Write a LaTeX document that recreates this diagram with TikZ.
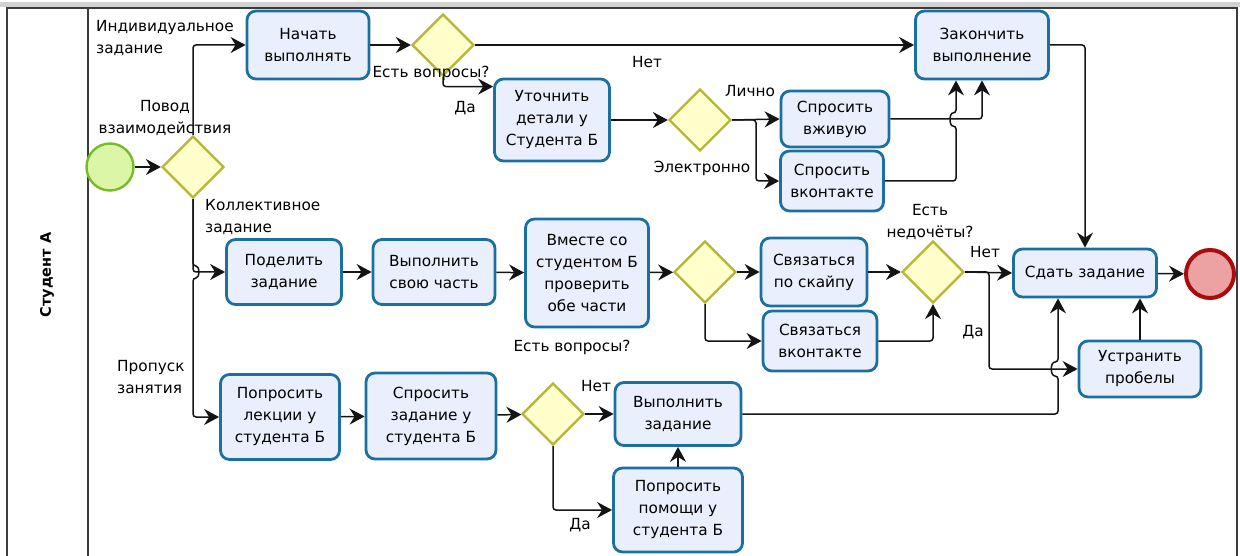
\documentclass[tikz,border=0pt]{standalone}
\usepackage{fontspec}
\setmainfont{DejaVu Sans}
\usetikzlibrary{shapes.geometric,arrows.meta,calc}

\definecolor{taskfill}{RGB}{234,239,253}
\definecolor{taskline}{RGB}{28,112,160}
\definecolor{gwfill}{RGB}{255,255,204}
\definecolor{gwline}{RGB}{182,182,52}
\definecolor{startfill}{RGB}{220,246,168}
\definecolor{startline}{RGB}{118,188,40}
\definecolor{endfill}{RGB}{236,162,162}
\definecolor{endline}{RGB}{168,12,12}
\definecolor{frameline}{RGB}{60,60,60}
\definecolor{flowline}{RGB}{20,20,20}

\tikzset{
  txt/.style={font=\fontsize{15.3}{22}\selectfont},
  task/.style={txt, draw=taskline, fill=taskfill, line width=2.8pt,
    rounded corners=9pt, align=center, inner sep=0pt},
  gw/.style={diamond, draw=gwline, fill=gwfill, line width=2.2pt,
    minimum width=62pt, minimum height=62pt, inner sep=0pt},
  startev/.style={circle, draw=startline, fill=startfill, line width=2.4pt,
    minimum size=47pt, inner sep=0pt},
  endev/.style={circle, draw=endline, fill=endfill, line width=4pt,
    minimum size=48pt, inner sep=0pt},
  flow/.style={draw=flowline, line width=1.5pt, rounded corners=3pt,
    -{Stealth[length=15pt,width=16pt,inset=5pt]}},
  lbl/.style={txt, inner sep=0pt, align=center},
  lane/.style={draw=frameline, line width=1.5pt},
}

\begin{document}
\begin{tikzpicture}[x=1pt,y=-1pt]
\useasboundingbox (0,0) rectangle (1240,556);

% window frame and the single lane
\fill[gray!35] (0,2) rectangle (1240,7);
\draw[lane] (7,560) -- (7,8) -- (1237,8) -- (1237,560);
\draw[lane] (88,8) -- (88,560);
\node[rotate=90, font=\bfseries\fontsize{14.5}{16}\selectfont] (lanename) at (47,275) {Студент А};

% events and gateways
\node[startev] (start) at (110,167) {};
\node[gw] (g1) at (193,167) {};
\node[gw] (g2) at (443,45) {};
\node[gw] (g3) at (700,120) {};
\node[gw] (g4) at (705,272) {};
\node[gw] (g5) at (933,272) {};
\node[gw] (g6) at (553,414) {};
\node[endev] (finish) at (1210,274) {};

% tasks
\node[task, minimum width=122pt, minimum height=68pt] (nachat) at (308,45) {Начать\\выполнять};
\node[task, minimum width=133pt, minimum height=68pt] (zak) at (982,45) {Закончить\\выполнение};
\node[task, minimum width=115pt, minimum height=82pt] (utoch) at (552,120) {Уточнить\\детали у\\Студента Б};
\node[task, minimum width=108pt, minimum height=56pt] (vzhiv) at (835,119) {Спросить\\вживую};
\node[task, minimum width=103pt, minimum height=60pt] (vkont) at (832,181) {Спросить\\вконтакте};

\node[task, minimum width=115pt, minimum height=65pt] (podel) at (284,272) {Поделить\\задание};
\node[task, minimum width=122pt, minimum height=65pt] (vypch) at (434,272) {Выполнить\\свою часть};
\node[task, minimum width=123pt, minimum height=108pt] (vmeste) at (587,273) {Вместе со\\студентом Б\\проверить\\обе части};
\node[task, minimum width=106pt, minimum height=68pt] (skype) at (814,272) {Связаться\\по скайпу};
\node[task, minimum width=114pt, minimum height=60pt] (svkont) at (820,341) {Связаться\\вконтакте};
\node[task, minimum width=143pt, minimum height=48pt] (sdat) at (1085,273) {Сдать задание};
\node[task, minimum width=122pt, minimum height=56pt] (ustr) at (1140,369) {Устранить\\пробелы};

\node[task, minimum width=119pt, minimum height=85pt] (lekc) at (280,417) {Попросить\\лекции у\\студента Б};
\node[task, minimum width=130pt, minimum height=86pt] (sprz) at (431,416) {Спросить\\задание у\\студента Б};
\node[task, minimum width=126pt, minimum height=63pt] (vypz) at (678,414) {Выполнить\\задание};
\node[task, minimum width=129pt, minimum height=84pt] (pomosh) at (678,510) {Попросить\\помощи у\\студента Б};

% labels
\node[lbl, align=left, anchor=west] (lind) at (96,38) {Индивидуальное\\задание};
\node[lbl] (lpovod) at (165,118) {Повод\\взаимодействия};
\node[lbl, align=left, anchor=west] (lkoll) at (205,217) {Коллективное\\задание};
\node[lbl, align=left, anchor=west] (lprop) at (117,377) {Пропуск\\занятия};
\node[lbl] (lq1) at (431,73) {Есть вопросы?};
\node[lbl] (lda1) at (465,108) {Да};
\node[lbl] (lnet1) at (647,62) {Нет};
\node[lbl] (llich) at (750,91) {Лично};
\node[lbl] (lel) at (702,168) {Электронно};
\node[lbl] (lq2) at (572,347) {Есть вопросы?};
\node[lbl] (lned) at (930,222) {Есть\\недочёты?};
\node[lbl] (lnet2) at (985,252) {Нет};
\node[lbl] (lda2) at (973,332) {Да};
\node[lbl] (lnet3) at (596,386) {Нет};
\node[lbl] (lda3) at (580,525) {Да};

% sequence flows: start and first split
\draw[flow] (start) -- (g1);
\draw[flow] (g1.north) |- (nachat.west);
\draw[flow] (g1.south) |- (podel.west);
\draw[flow] (g1.south) -- (193,266) .. controls (200,266) and (200,278) .. (193,278) |- (lekc.west);

% individual task branch
\draw[flow] (nachat) -- (g2);
\draw[flow] (g2.east) -- (zak.west);
\draw[flow] (g2.south) |- ($(utoch.north west)+(0,9)$);
\draw[flow] (utoch) -- (g3);
\draw[flow] (g3.east) -- (vzhiv.west);
\draw[flow] (g3.east) -- (756,120) -- (756,181) -- (vkont.west);
\draw[flow] (vzhiv.east) -| (zak.south);
\draw[flow] (vkont.east) -- (956,181) -- (956,126) .. controls (949,126) and (949,113) .. (956,113) -- ($(zak.south)+(-26,0)$);
\draw[flow] (zak.east) -| (sdat.north);

% collective task branch
\draw[flow] (podel) -- (vypch);
\draw[flow] (vypch) -- (vmeste);
\draw[flow] (vmeste) -- (g4);
\draw[flow] (g4) -- (skype);
\draw[flow] (g4.south) |- (svkont.west);
\draw[flow] (skype) -- (g5);
\draw[flow] (svkont.east) -| (g5.south);
\draw[flow] (g5.east) -- (sdat.west);
\draw[flow] (g5.east) -- (989,272) -- (989,369) -- (ustr.west);
\draw[flow] (ustr.north) -- (ustr.north |- sdat.south);
\draw[flow] (sdat) -- (finish);

% missed lesson branch
\draw[flow] (lekc) -- (sprz);
\draw[flow] (sprz) -- (g6);
\draw[flow] (g6) -- (vypz);
\draw[flow] (g6.south) |- (pomosh.west);
\draw[flow] (pomosh) -- (vypz);
\draw[flow] (vypz.east) -- (1058,414) -- (1058,376) .. controls (1050,376) and (1050,362) .. (1058,362) -- ($(sdat.south)+(-27,0)$);
\end{tikzpicture}
\end{document}
